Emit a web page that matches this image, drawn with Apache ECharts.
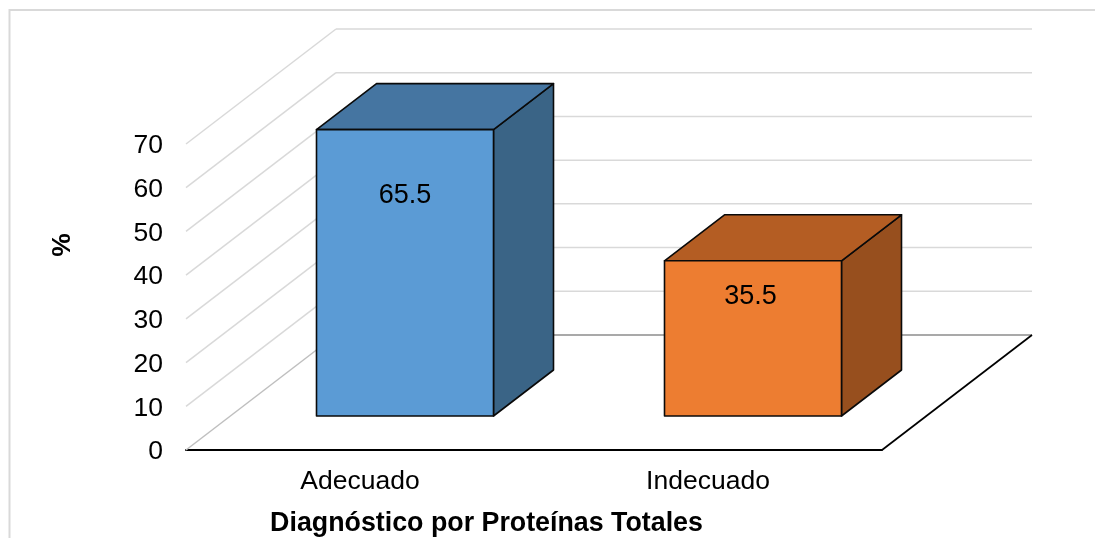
<!DOCTYPE html>
<html>
<head>
<meta charset="utf-8">
<style>html,body{margin:0;padding:0;background:#fff}#c{width:1095px;height:538px}</style>
<script src="https://cdn.jsdelivr.net/npm/echarts@6/dist/echarts.min.js"></script>
</head>
<body>
<div id="c"></div>
<script>
const categories = ['Adecuado', 'Indecuado'];
const values = [65.5, 35.5];
const yTicks = [0, 10, 20, 30, 40, 50, 60, 70];
const frontColors = ['#5B9BD5', '#ED7D31'];
const topColors = ['#4575A1', '#B45D23'];
const sideColors = ['#3A6486', '#974F1E'];
const xTitle = 'Diagnóstico por Proteínas Totales';
const yTitle = '%';

const FONT = '"Liberation Sans", Arial, sans-serif';
const DX = 150, DY = -115;          // floor depth projection
const BAR_W = 177;                  // bar width in pixels
const B_OFF = [45, -34];            // bar front face offset on the floor
const B_DEPTH = [60, -46];          // bar depth projection

const chart = echarts.init(document.getElementById('c'), null, {renderer: 'canvas'});

function wallItem(params, api) {
  const v = api.value(0);
  const cs = params.coordSys;
  const y = api.coord([0, v])[1];
  const x0 = cs.x, x1 = cs.x + cs.width;
  const wallColor = v === 0 ? '#BFBFBF' : '#D9D9D9';
  const style = {stroke: wallColor, lineWidth: 1.5, fill: null};
  const children = [
    {type: 'polyline', shape: {points: [[x0, y], [x0 + DX, y + DY]]}, style},
    {type: 'polyline', shape: {points: [[x0 + DX, y + DY], [x1 + DX, y + DY]]},
     style: {stroke: v === 0 ? '#8C8C8C' : '#D9D9D9', lineWidth: 1.5, fill: null}}
  ];
  if (v === 0) {
    children.push({type: 'polyline', shape: {points: [[x1, y], [x1 + DX, y + DY]]},
      style: {stroke: '#000', lineWidth: 1.7, fill: null}});
  }
  return {type: 'group', children};
}

function barItem(params, api) {
  const i = api.value(0);
  const v = api.value(1);
  const top = api.coord([i, v]);
  const base = api.coord([i, 0]);
  const l = top[0] + B_OFF[0] - BAR_W / 2;
  const r = l + BAR_W;
  const t = top[1] + B_OFF[1];
  const b = base[1] + B_OFF[1];
  const dx = B_DEPTH[0], dy = B_DEPTH[1];
  const edge = {stroke: '#0A0A0A', lineWidth: 1.6, lineJoin: 'round'};
  const poly = (pts, fill) => ({type: 'polygon', shape: {points: pts}, style: Object.assign({fill}, edge)});
  return {type: 'group', children: [
    poly([[r, t], [r + dx, t + dy], [r + dx, b + dy], [r, b]], sideColors[i]),
    poly([[l, t], [l + dx, t + dy], [r + dx, t + dy], [r, t]], topColors[i]),
    poly([[l, t], [r, t], [r, b], [l, b]], frontColors[i]),
    {type: 'text', style: {
      text: String(v), x: (l + r) / 2 - i * 2.5, y: t + (b - t) * 0.225 + 1,
      align: 'center', verticalAlign: 'middle',
      fill: '#000', font: '27px ' + FONT
    }}
  ]};
}

chart.setOption({
  animation: false,
  backgroundColor: '#fff',
  graphic: [{
    type: 'polyline', silent: true, z: -1,
    shape: {points: [[9.5, 540], [9.5, 10], [1097, 10]]},
    style: {stroke: '#D9D9D9', lineWidth: 2, fill: null}
  }],
  grid: {left: 186, top: 144, width: 696, height: 306, outerBoundsMode: 'none', containLabel: false},
  xAxis: {
    type: 'category', data: categories,
    axisTick: {show: false},
    axisLine: {show: true, lineStyle: {color: '#000', width: 2}},
    axisLabel: {color: '#000', fontFamily: FONT, fontSize: 26.5, margin: 18},
    name: xTitle, nameLocation: 'middle', nameGap: 60,
    nameTextStyle: {color: '#000', fontFamily: FONT, fontSize: 26.8, fontWeight: 'bold', padding: [0, 95, 0, 0]}
  },
  yAxis: {
    type: 'value', min: 0, max: 70, interval: 10,
    axisLine: {show: false}, axisTick: {show: false}, splitLine: {show: false},
    axisLabel: {color: '#000', fontFamily: FONT, fontSize: 26.5, margin: 23, verticalAlign: 'top', lineHeight: 4},
    name: yTitle, nameLocation: 'middle', nameGap: 110,
    nameTextStyle: {color: '#000', fontFamily: FONT, fontSize: 26.5, fontWeight: 'bold', padding: [0, 0, 0, 104]}
  },
  series: [
    {type: 'custom', renderItem: wallItem, silent: true, clip: false, z: 1,
     data: yTicks.map(v => [v]), encode: {y: 0}},
    {type: 'custom', renderItem: barItem, silent: true, clip: false, z: 2,
     data: values.map((v, i) => [i, v]), encode: {x: 0, y: 1}}
  ]
});
</script>
</body>
</html>
